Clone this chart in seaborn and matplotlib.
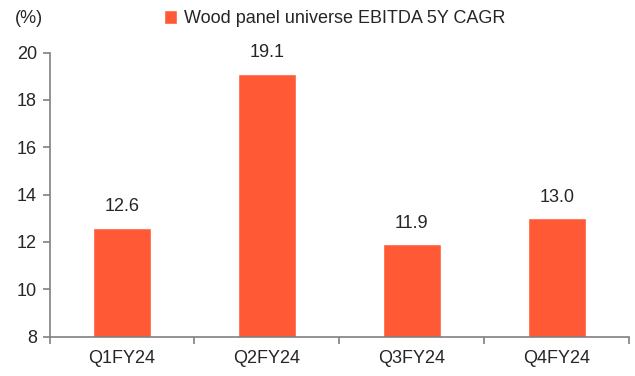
import matplotlib
matplotlib.use("Agg")
import matplotlib.pyplot as plt
import seaborn as sns
import numpy as np

# Chart data
quarters = ["Q1FY24", "Q2FY24", "Q3FY24", "Q4FY24"]
cagr = [12.6, 19.1, 11.9, 13.0]
series_name = "Wood panel universe EBITDA 5Y CAGR"

sns.set_style("white")
plt.rcParams['font.family'] = ['Liberation Sans', 'DejaVu Sans']
plt.rcParams['font.size'] = 13

bar_color = "#FF5A35"
axis_grey = "#808080"

fig = plt.figure(figsize=(6.35, 3.76), dpi=100)
ax = fig.add_axes([0.078, 0.105, 0.913, 0.755])

sns.barplot(x=quarters, y=cagr, color=bar_color, width=0.4, ax=ax,
            label=series_name, saturation=1)

ax.set_ylim(8, 20)
ax.set_yticks(np.arange(8, 21, 2))
ax.set_xlim(-0.5, len(quarters) - 0.5)
ax.set_xlabel('')
ax.set_ylabel('')

# value labels above bars
for c in ax.containers:
    ax.bar_label(c, labels=[f"{v:.1f}" for v in cagr], padding=9, fontsize=13)

# spines
for s in ['top', 'right']:
    ax.spines[s].set_visible(False)
for s in ['left', 'bottom']:
    ax.spines[s].set_color(axis_grey)
    ax.spines[s].set_linewidth(1.2)

# ticks: y ticks out to the left, x ticks between categories
ax.tick_params(axis='y', direction='out', length=5, width=1.2, color=axis_grey,
               left=True, labelsize=13, pad=4)
ax.tick_params(axis='x', which='major', length=0, labelsize=13, pad=10)
ax.set_xticks(np.arange(-0.5, len(quarters), 1), minor=True)
ax.tick_params(axis='x', which='minor', direction='out', length=5, width=1.2,
               color=axis_grey, bottom=True)

# legend and unit label
ax.legend(loc='center', bbox_to_anchor=(0.527, 0.95), bbox_transform=fig.transFigure,
          frameon=False, handlelength=0.75, handleheight=0.75, handletextpad=0.4,
          fontsize=13, borderaxespad=0)
fig.text(0.023, 0.952, "(%)", ha='left', va='center', fontsize=13)

plt.savefig("out.png", dpi=100)
